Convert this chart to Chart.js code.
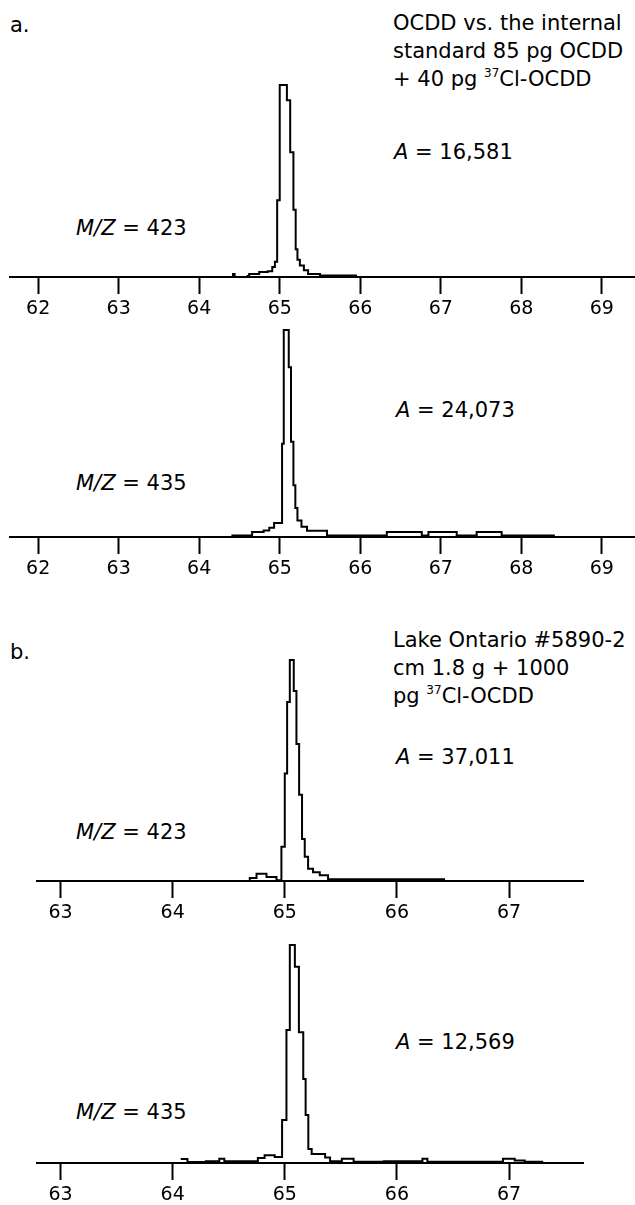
<!DOCTYPE html>
<html>
<head>
<meta charset="utf-8">
<script src="https://cdn.jsdelivr.net/npm/chart.js@4.4.1/dist/chart.umd.min.js"></script>
<style>
html,body{margin:0;padding:0;background:#fff;overflow:hidden}
body{width:635px;height:1205px;position:relative;font-family:"DejaVu Sans",sans-serif;color:#000}
canvas{position:absolute;left:0}
.t{position:absolute;font-size:21px;line-height:28px;white-space:nowrap}
.t sup{font-size:12px;line-height:0;vertical-align:9px}
.t i{font-style:italic}
</style>
</head>
<body>
<div class="t" style="left:10px;top:11px">a.</div>
<div class="t" style="left:393px;top:9px">OCDD vs. the internal<br>standard 85 pg OCDD<br>+ 40 pg <sup>37</sup>Cl-OCDD</div>
<div class="t" style="left:394px;top:138px"><i>A</i> = 16,581</div>
<div class="t" style="left:76px;top:214px"><i>M/Z</i> = 423</div>
<div class="t" style="left:396px;top:396px"><i>A</i> = 24,073</div>
<div class="t" style="left:76px;top:469px"><i>M/Z</i> = 435</div>

<div class="t" style="left:10px;top:638px">b.</div>
<div class="t" style="left:393px;top:626px">Lake Ontario #5890-2<br>cm 1.8 g + 1000<br>pg <sup>37</sup>Cl-OCDD</div>
<div class="t" style="left:396px;top:743px"><i>A</i> = 37,011</div>
<div class="t" style="left:76px;top:818px"><i>M/Z</i> = 423</div>
<div class="t" style="left:396px;top:1028px"><i>A</i> = 12,569</div>
<div class="t" style="left:76px;top:1098px"><i>M/Z</i> = 435</div>

<script>
// retention time (min) and relative signal (% of peak top) for each trace
const ticksA = [62, 63, 64, 65, 66, 67, 68, 69]
const ticksB = [63, 64, 65, 66, 67]

const a423Time = [64.40, 64.42, 64.44, 64.60, 64.62, 64.745, 64.85, 64.907, 64.94, 64.968, 65.0, 65.089, 65.13, 65.17, 65.198, 65.22, 65.25, 65.30, 65.352, 65.50, 65.96]
const a423Sig  = [0, 1.5, 0, 0.5, 1.5, 2.6, 3.0, 5.2, 8, 40, 100, 92, 65, 35, 14.5, 9, 6, 3.5, 1.5, 0.8, 0.8]

const a435Time = [64.40, 64.657, 64.80, 64.87, 64.93, 65.029, 65.05, 65.112, 65.14, 65.17, 65.194, 65.22, 65.27, 65.339, 65.587, 66.33, 66.764, 66.847, 67.198, 67.446, 67.756, 68.417]
const a435Sig  = [0.7, 2.4, 3.2, 4.5, 6.8, 45, 100, 82, 46, 25, 14, 8, 5, 3, 0.7, 2.4, 0.7, 2.4, 0.7, 2.4, 0.7, 0.7]

const b423Time = [64.66, 64.688, 64.748, 64.837, 64.926, 64.97, 65.0, 65.021, 65.045, 65.08, 65.104, 65.128, 65.154, 65.178, 65.208, 65.252, 65.312, 65.386, 66.43]
const b423Sig  = [0, 1.4, 3.3, 1.8, 0.3, 15.5, 48.6, 81, 100, 86, 62, 39, 19, 11, 5.5, 4, 2.6, 0.8, 0.8]

const b435Time = [64.072, 64.132, 64.296, 64.416, 64.461, 64.76, 64.82, 64.91, 64.976, 65.015, 65.045, 65.09, 65.126, 65.165, 65.186, 65.21, 65.24, 65.36, 65.404, 65.509, 65.614, 65.883, 66.228, 66.272, 66.946, 67.051, 67.14, 67.305]
const b435Sig  = [1.8, 0.5, 0.8, 2.0, 0.8, 2.3, 3.5, 2.8, 19.7, 61, 100, 90, 60, 38.5, 22, 6.4, 4.1, 2.5, 0.8, 2.0, 0.6, 0.8, 2.0, 0.6, 2.0, 1.2, 0.6, 0.6]

function trace(top, plotH, time, sig, xmin, xmax, ticks, padL, padR) {
  const cv = document.createElement('canvas')
  const h = 10 + plotH + 44
  cv.width = 635; cv.height = h
  cv.style.top = top + 'px'
  document.body.appendChild(cv)
  new Chart(cv, {
    type: 'line',
    data: { datasets: [{
      data: time.map((x, i) => ({ x, y: sig[i] })),
      borderColor: '#000', borderWidth: 2, pointRadius: 0,
      stepped: true, fill: false, clip: false
    }]},
    options: {
      responsive: false, animation: false, events: [],
      layout: { padding: { top: 10, left: padL, right: padR, bottom: 0 } },
      plugins: { legend: { display: false }, tooltip: { enabled: false } },
      scales: {
        x: {
          type: 'linear', min: xmin, max: xmax,
          afterBuildTicks: s => { s.ticks = ticks.map(v => ({ value: v })) },
          afterFit: s => { s.height = 44 },
          border: { display: true, color: '#000', width: 2 },
          grid: { drawOnChartArea: false, drawTicks: true, tickLength: 17, tickWidth: 2, tickColor: '#000' },
          ticks: { color: '#000', font: { family: 'DejaVu Sans', size: 19 }, padding: 4, maxRotation: 0, autoSkip: false }
        },
        y: { display: false, min: 0, max: 100 }
      }
    }
  })
}

trace(75, 192, a423Time, a423Sig, 61.65, 69.4, ticksA, 10, 1)
trace(320, 207, a435Time, a435Sig, 61.65, 69.4, ticksA, 10, 1)
trace(650, 221, b423Time, b423Sig, 62.79, 67.66, ticksB, 37, 52)
trace(935, 218, b435Time, b435Sig, 62.79, 67.66, ticksB, 37, 52)
</script>
</body>
</html>
